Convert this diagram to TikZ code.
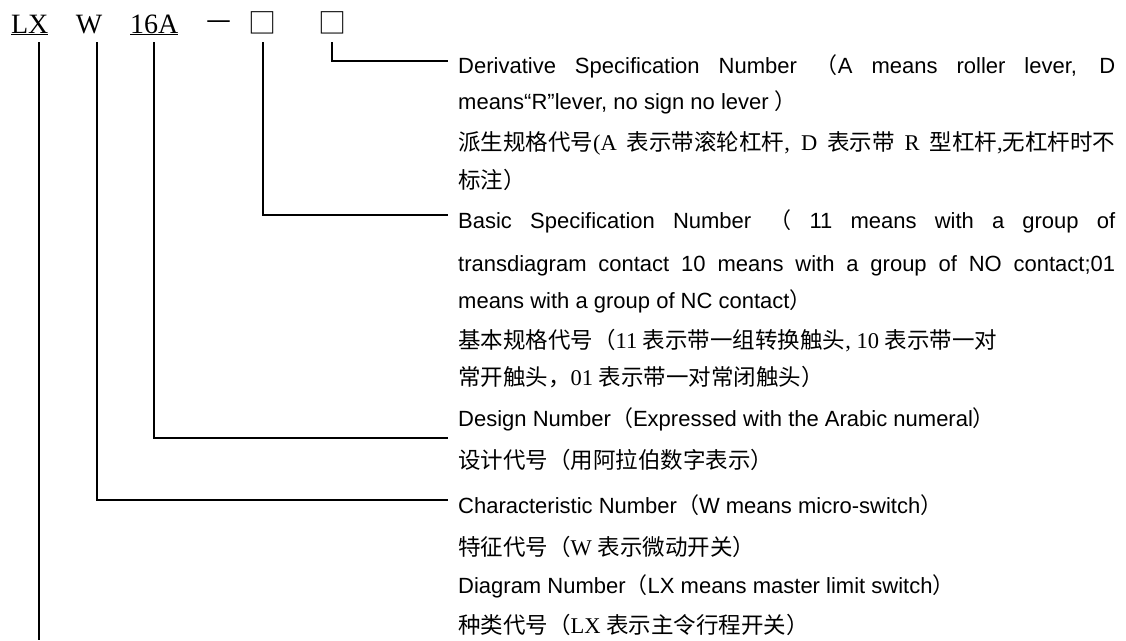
\documentclass[tikz,border=0pt]{standalone}
\usepackage{fontspec}
\setmainfont{Liberation Serif}
\setsansfont{Liberation Sans}
\newfontfamily\zhfont{Noto Sans CJK SC}
\newcommand\zh[1]{{\zhfont#1}}
% Lines that run over the full text column are stretched to its width.
\newcommand\fullline[1]{\makebox[657pt][s]{#1}}
\usetikzlibrary{
  calc
}
\tikzset{
  % For the type code on top.
  code/.style={
    font=\fontsize{28}{30}\selectfont,
    inner sep=0pt,
    outer sep=0pt},
%
  % For English explanations.
  english/.style={
    font=\fontsize{22}{26}\selectfont\sffamily,
    anchor=base west,
    inner sep=0pt},
%
  % For Chinese explanations.
  chinese/.style={
    font=\fontsize{22.5}{26}\selectfont,
    anchor=base west,
    inner sep=0pt},
%
  % For leader lines.
  leader/.style={
    line width=2pt},
%
  % For underlined code parts.
  underline/.style={
    line width=1.3pt},
}

\begin{document}
\begin{tikzpicture}[x=1pt,y=-1pt]
  \useasboundingbox (0,0) rectangle (1126,640);

  \node[code, anchor=base west] (lx) at (11,33) {LX};
  \node[code, anchor=base] (w) at (89,33) {W};
  \node[code, anchor=base west] (num) at (130,33) {16A};
  \node[code, anchor=base] (dash) at (219.5,29) {\zh{—}};
  \node[code, anchor=base] (bx1) at (262.5,33) {\zh{□}};
  \node[code, anchor=base] (bx2) at (332,33) {\zh{□}};

  \draw[underline] ([yshift=-1.5pt]lx.base west) -- ([yshift=-1.5pt]lx.base east);
  \draw[underline] ([yshift=-1.5pt]num.base west) -- ([yshift=-1.5pt]num.base east);

  \node[english] (d1) at (458,73)
    {\fullline{Derivative Specification Number \zh{（}A means roller lever, D}};
  \node[english] (d2) at (458,109) {means“R”lever, no sign no lever \zh{）}};
  \node[chinese] (dc1) at (458,150)
    {\fullline{\zh{派生规格代号}(A \zh{表示带滚轮杠杆}, D \zh{表示带} R \zh{型杠杆},\zh{无杠杆时不}}};
  \node[chinese] (dc2) at (458,188) {\zh{标注）}};

  \node[english] (b1) at (458,228)
    {\fullline{Basic Specification Number \zh{（} 11 means with a group of}};
  \node[english] (b2) at (458,271)
    {\fullline{transdiagram contact 10 means with a group of NO contact;01}};
  \node[english] (b3) at (458,308) {means with a group of NC contact\zh{）}};
  \node[chinese] (bc1) at (458,348) {\zh{基本规格代号（}11 \zh{表示带一组转换触头}, 10 \zh{表示带一对}};
  \node[chinese] (bc2) at (458,385) {\zh{常开触头，}01 \zh{表示带一对常闭触头）}};

  \node[english] (g1) at (458,426) {Design Number\zh{（}Expressed with the Arabic numeral\zh{）}};
  \node[chinese] (gc1) at (458,468) {\zh{设计代号（用阿拉伯数字表示）}};

  \node[english] (c1) at (458,513) {Characteristic Number\zh{（}W means micro-switch\zh{）}};
  \node[chinese] (cc1) at (458,555) {\zh{特征代号（}W \zh{表示微动开关）}};

  \node[english] (m1) at (458,593) {Diagram Number\zh{（}LX means master limit switch\zh{）}};
  \node[chinese] (mc1) at (458,633) {\zh{种类代号（}LX \zh{表示主令行程开关）}};

  % The LX line runs down to the lower edge of the picture.
  \coordinate (bottom) at (0,640);
  \coordinate (lxfoot) at ([xshift=9pt,yshift=-9pt]lx.base);
  \draw[leader] (lxfoot) -- (lxfoot |- bottom);

  \draw[leader] ([xshift=8pt,yshift=-9pt]w.base) |- ([shift={(-10pt,13pt)}]c1.base west);
  \draw[leader] ([yshift=-9pt]num.base) |- ([shift={(-10pt,-12pt)}]g1.base west);
  \draw[leader] ([yshift=-9pt]bx1.base) |- ([shift={(-10pt,13pt)}]b1.base west);
  \draw[leader] ([yshift=-9pt]bx2.base) |- ([shift={(-10pt,12pt)}]d1.base west);
\end{tikzpicture}
\end{document}
